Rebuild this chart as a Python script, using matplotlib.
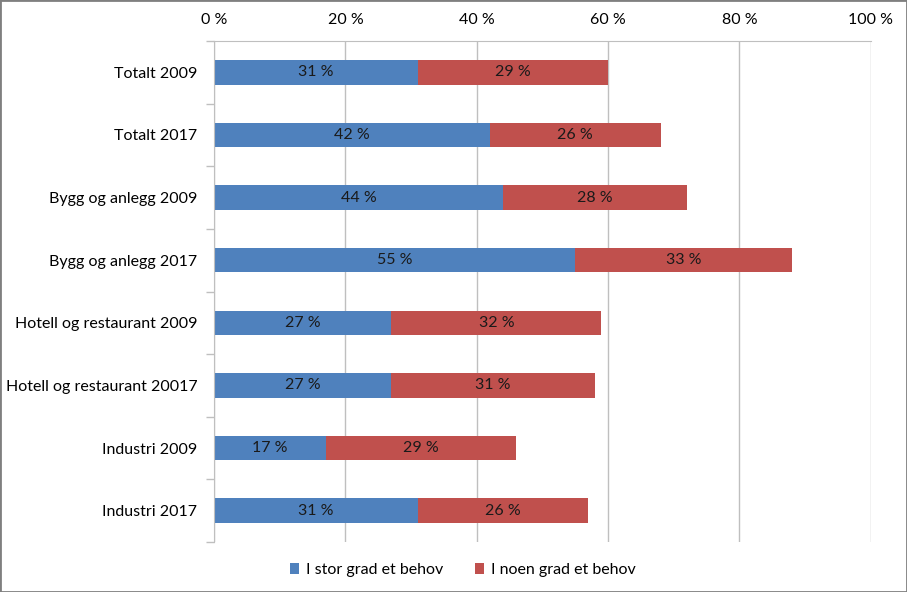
#!/usr/bin/env python3

import numpy as np
import matplotlib
matplotlib.use('Agg')
import matplotlib.pyplot as plt
from matplotlib.patches import Rectangle

categories = [
    'Totalt 2009',
    'Totalt 2017',
    'Bygg og anlegg 2009',
    'Bygg og anlegg 2017',
    'Hotell og restaurant 2009',
    'Hotell og restaurant 20017',
    'Industri 2009',
    'Industri 2017',
]
stor_grad = [31, 42, 44, 55, 27, 27, 17, 31]
noen_grad = [29, 26, 28, 33, 32, 31, 29, 26]
series_names = ['I stor grad et behov', 'I noen grad et behov']
x_ticks = [0, 20, 40, 60, 80, 100]

blue = '#4F81BD'
red = '#C0504D'
grid_col = '#BFBFBF'
fs = 11.5


def main():
    plt.rcParams['font.family'] = ['Lato', 'DejaVu Sans']
    fig = plt.figure(figsize=(9.07, 5.92), dpi=100)
    ax = fig.add_axes([0.236, 0.0845, 0.724, 0.8462])

    y = np.arange(len(categories))
    h = 0.39
    ax.barh(y, stor_grad, height=h, color=blue, label=series_names[0])
    ax.barh(y, noen_grad, left=stor_grad, height=h, color=red,
            label=series_names[1])

    for yi, a, b in zip(y, stor_grad, noen_grad):
        ax.text(a / 2, yi, f'{a} %', ha='center', va='center',
                fontsize=fs, color='#1a1a1a')
        ax.text(a + b / 2, yi, f'{b} %', ha='center', va='center',
                fontsize=fs, color='#1a1a1a')

    ax.set_xlim(0, 100)
    ax.set_ylim(len(categories) - 0.5, -0.5)
    ax.xaxis.tick_top()
    ax.set_xticks(x_ticks)
    ax.set_xticklabels([f'{t} %' for t in x_ticks], fontsize=fs)
    ax.tick_params(axis='x', length=0, pad=10)
    ax.set_yticks(y)
    ax.set_yticklabels(categories, fontsize=fs)
    ax.tick_params(axis='y', which='major', length=0, pad=12)
    ax.set_yticks(np.arange(len(categories) + 1) - 0.5, minor=True)
    ax.tick_params(axis='y', which='minor', length=6, color=grid_col,
                   width=1)

    ax.grid(axis='x', color=grid_col, linewidth=1)
    ax.set_axisbelow(True)
    for s in ['right', 'bottom']:
        ax.spines[s].set_visible(False)
    ax.spines['top'].set_color(grid_col)
    ax.spines['left'].set_color(grid_col)

    handles, labels = ax.get_legend_handles_labels()
    fig.legend(handles, labels, loc='center', bbox_to_anchor=(0.51, 0.037),
               ncol=2, frameon=False, fontsize=fs, handlelength=0.6,
               handleheight=0.6, handletextpad=0.4, columnspacing=2.0)

    fig.patches.append(Rectangle((0, 0), 1, 1, transform=fig.transFigure,
                                 fill=False, edgecolor='#7f7f7f',
                                 linewidth=2))
    fig.savefig('out.png', dpi=100)


if __name__ == "__main__":
    main()
